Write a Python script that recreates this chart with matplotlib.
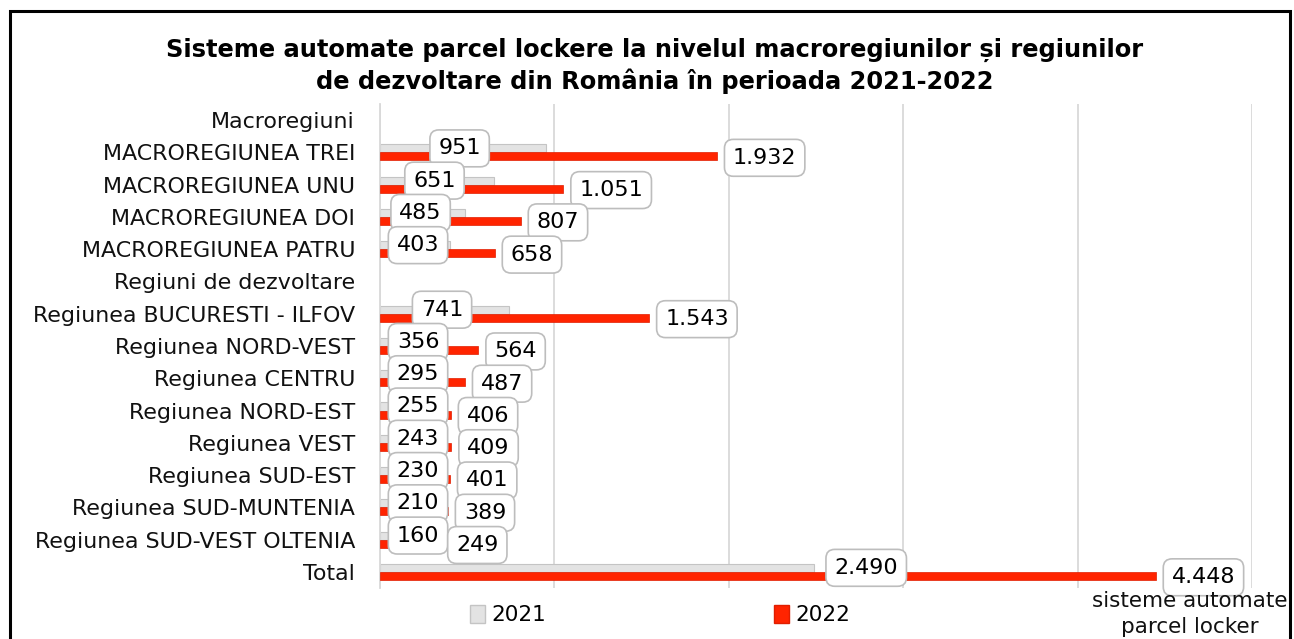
import numpy as np
import matplotlib
matplotlib.use("Agg")
import matplotlib.pyplot as plt
from matplotlib.patches import Patch, Rectangle

categories = [
    "Macroregiuni",
    "MACROREGIUNEA TREI",
    "MACROREGIUNEA UNU",
    "MACROREGIUNEA DOI",
    "MACROREGIUNEA PATRU",
    "Regiuni de dezvoltare",
    "Regiunea BUCURESTI - ILFOV",
    "Regiunea NORD-VEST",
    "Regiunea CENTRU",
    "Regiunea NORD-EST",
    "Regiunea VEST",
    "Regiunea SUD-EST",
    "Regiunea SUD-MUNTENIA",
    "Regiunea SUD-VEST OLTENIA",
    "Total",
]
v2021 = [np.nan, 951, 651, 485, 403, np.nan, 741, 356, 295, 255, 243, 230, 210, 160, 2490]
v2022 = [np.nan, 1932, 1051, 807, 658, np.nan, 1543, 564, 487, 406, 409, 401, 389, 249, 4448]
series_names = ["2021", "2022"]
title = ("Sisteme automate parcel lockere la nivelul macroregiunilor și regiunilor\n"
         "de dezvoltare din România în perioada 2021-2022")
axis_title = "sisteme automate\nparcel locker"

C21 = "#E3E3E3"
C21E = "#C4C4C4"
C22 = "#FF2400"
GRID = "#D9D9D9"

plt.rcParams["font.family"] = ["DejaVu Sans"]

fig = plt.figure(figsize=(12.94, 6.39), dpi=100)
ax = fig.add_axes([380 / 1294, 1 - 588 / 639, 872 / 1294, 484 / 639])

y = np.arange(len(categories))
h = 0.25
a21 = np.array(v2021, dtype=float)
a22 = np.array(v2022, dtype=float)
ax.barh(y - h / 2, a21, height=h, color=C21, edgecolor=C21E, linewidth=0.8, zorder=2)
ax.barh(y + h / 2, a22, height=h, color=C22, edgecolor="#E01E00", linewidth=0.5, zorder=3)

ax.set_xlim(0, 5000)
ax.set_ylim(len(categories) - 0.5, -0.5)
ax.set_xticks(np.arange(0, 5001, 1000))
ax.xaxis.grid(True, color=GRID, linewidth=1.3, zorder=0)
ax.set_axisbelow(True)
ax.tick_params(axis="x", bottom=False, labelbottom=False)
ax.set_yticks(y)
ax.set_yticklabels(categories, fontsize=15.9, color="#111111")
ax.tick_params(axis="y", length=0, pad=18)
for s in ["top", "right", "bottom"]:
    ax.spines[s].set_visible(False)
ax.spines["left"].set_color(GRID)
ax.spines["left"].set_linewidth(1.3)


def fmt(v):
    return f"{int(v):,}".replace(",", ".")


box = dict(boxstyle="round,pad=0.38,rounding_size=0.4", fc="white", ec="#BDBDBD", lw=1.2)
LFS = 16
for i in range(len(categories)):
    if np.isnan(a21[i]):
        continue
    v = a21[i]
    if v > 2000:
        ax.annotate(fmt(v), xy=(v, y[i] - h / 2), xytext=(14.5, 0), textcoords="offset points",
                    ha="left", va="center", fontsize=LFS, bbox=box, zorder=5)
    else:
        ax.annotate(fmt(v), xy=(max(0.48 * v, 218), y[i] - h / 2), xytext=(0, 0),
                    textcoords="offset points", ha="center", va="center", fontsize=LFS,
                    bbox=box, zorder=5)
    w = a22[i]
    ax.annotate(fmt(w), xy=(max(w, 345), y[i] + h / 2), xytext=(11.5, -1),
                textcoords="offset points", ha="left", va="center", fontsize=LFS,
                bbox=box, zorder=5)

fig.text(0.506, 0.897, title, ha="center", va="center", fontsize=17.4, fontweight="bold",
         linespacing=1.3)

fig.text(1190 / 1294, 1 - 614 / 639, axis_title, ha="center", va="center", fontsize=15.5,
         linespacing=1.35, color="#111111")

handles = [Patch(facecolor=C21, edgecolor=C21E), Patch(facecolor=C22, edgecolor="#E01E00")]
fig.legend(handles, series_names, loc="center", bbox_to_anchor=(660 / 1294, 1 - 615 / 639),
           ncol=2, frameon=False, fontsize=15.5, handlelength=0.7, handleheight=0.9,
           handletextpad=0.3, columnspacing=10.6)

fig.patches.append(Rectangle((10 / 1294, -0.05), 1280 / 1294, 1.05 - 11 / 639,
                             transform=fig.transFigure, fill=False, ec="black", lw=2.2))

fig.savefig("out.png", dpi=100)
